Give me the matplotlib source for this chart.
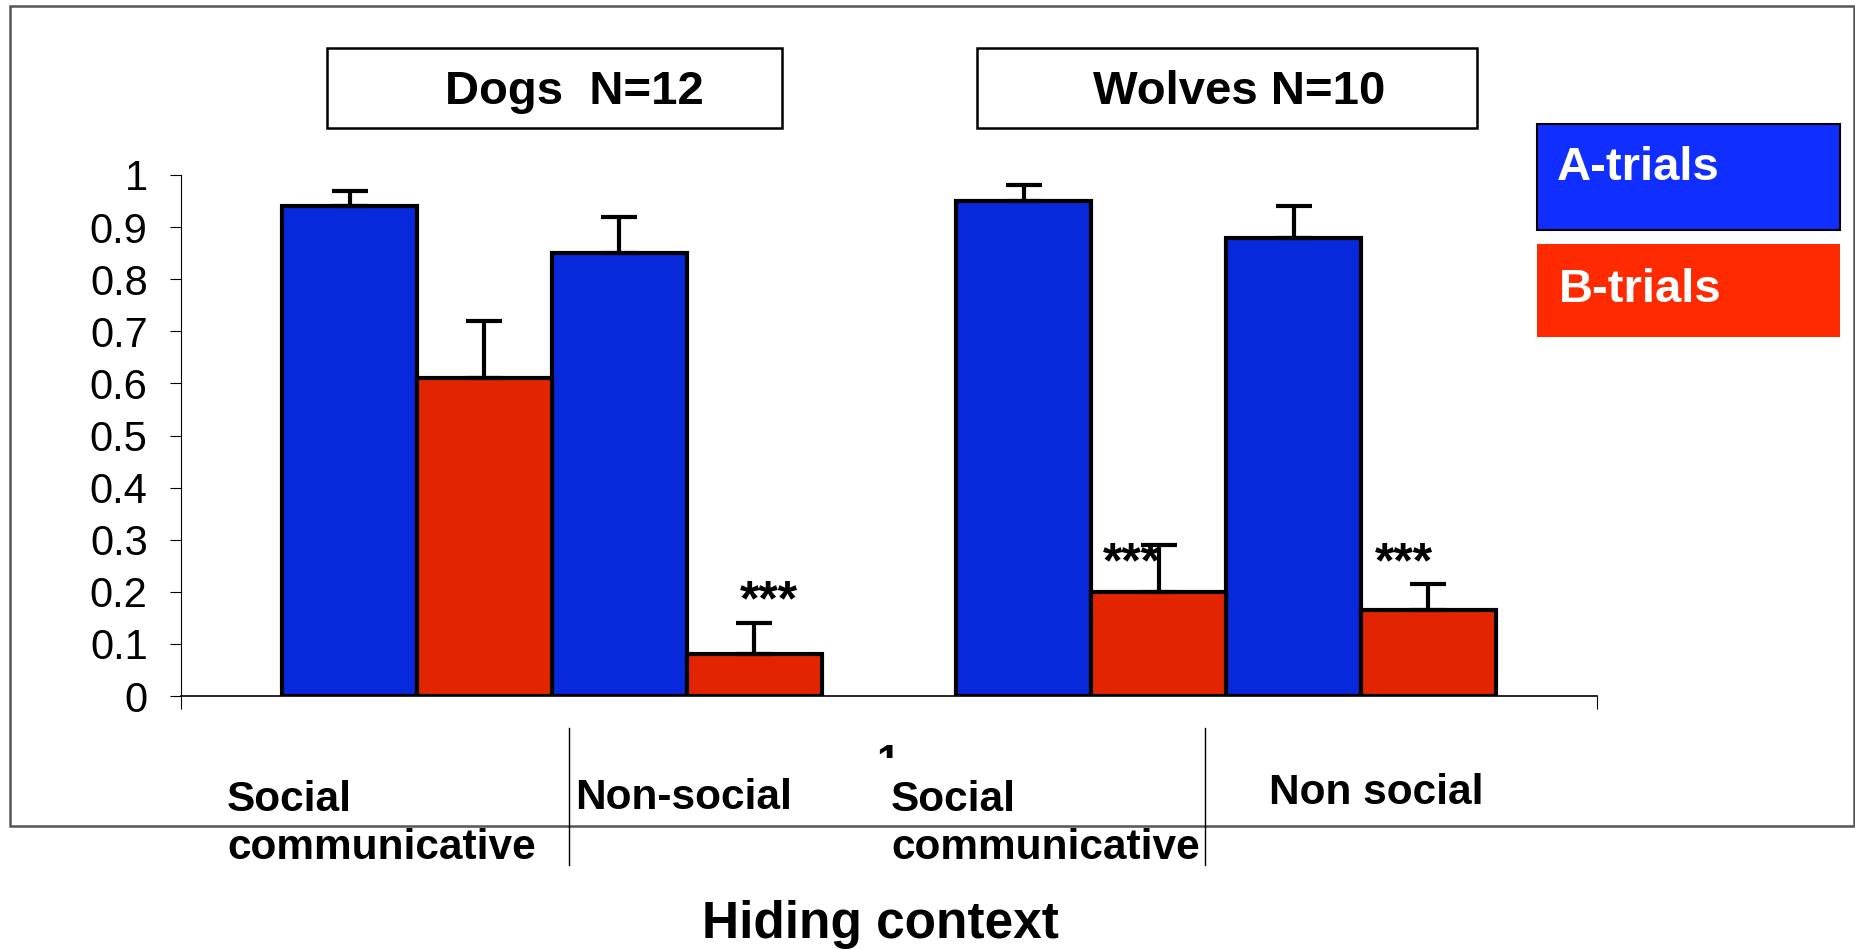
import matplotlib
matplotlib.use("Agg")
import matplotlib.pyplot as plt
from matplotlib.patches import Rectangle
from matplotlib.transforms import Bbox
import numpy as np

plt.rcParams['font.family'] = ['Liberation Sans', 'DejaVu Sans']

# --- Data (proportion of correct choices) ---
groups = ['Dogs  N=12', 'Wolves N=10']
contexts = ['Social\ncommunicative', 'Non-social', 'Social\ncommunicative', 'Non social']
a_trials = [0.94, 0.85, 0.95, 0.88]
a_err = [0.03, 0.07, 0.03, 0.06]
b_trials = [0.61, 0.08, 0.20, 0.165]
b_err = [0.11, 0.06, 0.09, 0.05]
stars = ['', '***', '***', '***']
yticks = [0, 0.1, 0.2, 0.3, 0.4, 0.5, 0.6, 0.7, 0.8, 0.9, 1]
ytick_labels = ['0', '0.1', '0.2', '0.3', '0.4', '0.5', '0.6', '0.7', '0.8', '0.9', '1']

BAR_BLUE = '#0828DC'
BAR_RED = '#E32400'
LEG_BLUE = '#0F2EFF'
LEG_RED = '#FF2A00'

W, H = 1856, 950
fig = plt.figure(figsize=(W / 100, H / 100), dpi=100)


def fx(px):
    return px / W


def fy(py):
    return 1 - py / H


# outer chart frame
fig.patches.append(Rectangle((fx(10), fy(826)), fx(1854) - fx(10), fy(6) - fy(826),
                             transform=fig.transFigure, fill=False,
                             edgecolor='#555555', linewidth=1.8))

ax = fig.add_axes([fx(181), fy(696), fx(1597) - fx(181), fy(175) - fy(696)])

# bar positions: two bars (A, B) per context, a gap between dogs and wolves
a_pos = np.array([0, 2, 5, 7]) + 0.5
b_pos = a_pos + 1

ax.bar(a_pos, a_trials, width=1, color=BAR_BLUE, edgecolor='black', linewidth=3, zorder=3)
ax.bar(b_pos, b_trials, width=1, color=BAR_RED, edgecolor='black', linewidth=3, zorder=3)
ax.errorbar(a_pos, a_trials, yerr=[np.zeros(4), a_err], fmt='none', ecolor='black',
            elinewidth=3, capsize=13, capthick=3, zorder=4)
ax.errorbar(b_pos, b_trials, yerr=[np.zeros(4), b_err], fmt='none', ecolor='black',
            elinewidth=3, capsize=13, capthick=3, zorder=4)

# significance stars
star_x = [0, 3.61, 6.30, 8.32]
star_y = [0, 0.155, 0.228, 0.228]
for s, x, y in zip(stars, star_x, star_y):
    if s:
        ax.text(x, y, s, ha='center', va='baseline', fontsize=36, fontweight='bold', zorder=5)

ax.set_xlim(-0.75, 9.75)
ax.set_ylim(0, 1)
ax.set_yticks(yticks)
ax.set_yticklabels(ytick_labels, fontsize=30)
ax.set_xticks([-0.75, 9.75])
ax.set_xticklabels(['', ''])
ax.tick_params(axis='y', direction='out', length=8, width=0.8, pad=16)
ax.tick_params(axis='x', direction='out', length=9.5, width=0.8)
ax.spines['top'].set_visible(False)
ax.spines['right'].set_visible(False)
ax.spines['left'].set_linewidth(0.8)
ax.spines['bottom'].set_linewidth(1.2)
ax.patch.set_alpha(0)

# group title boxes
title_boxes = [(327, 48, 782, 128, 445), (977, 48, 1477, 128, 1093)]
for name, (x0, y0, x1, y1, tx) in zip(groups, title_boxes):
    fig.patches.append(Rectangle((fx(x0), fy(y1)), fx(x1) - fx(x0), fy(y0) - fy(y1),
                                 transform=fig.transFigure, facecolor='white',
                                 edgecolor='black', linewidth=1.8))
    fig.text(fx(tx), fy(104), name, ha='left', va='baseline', fontsize=34, fontweight='bold')

# legend boxes
fig.patches.append(Rectangle((fx(1537), fy(230)), fx(1840) - fx(1537), fy(124) - fy(230),
                             transform=fig.transFigure, facecolor=LEG_BLUE,
                             edgecolor='black', linewidth=1.5))
fig.patches.append(Rectangle((fx(1537), fy(337)), fx(1840) - fx(1537), fy(244) - fy(337),
                             transform=fig.transFigure, facecolor=LEG_RED,
                             edgecolor='none'))
fig.text(fx(1557), fy(180), 'A-trials', color='white', fontsize=34, fontweight='bold', va='baseline')
fig.text(fx(1559), fy(302), 'B-trials', color='white', fontsize=34, fontweight='bold', va='baseline')

# category axis label "1" (only its top is visible in the original)
one = fig.text(fx(888), fy(743), '1', ha='center', va='top', fontsize=30, fontweight='bold')
one.set_clip_box(Bbox.from_extents(860, H - 758, 915, H - 735))
one.set_clip_on(True)

# hiding context labels and dividers
label_pos = [(227, 859), (575, 809), (891, 859), (1269, 804)]
for lab, (x, y) in zip(contexts, label_pos):
    fig.text(fx(x), fy(y), lab, ha='left', va='baseline', fontsize=30.5,
             fontweight='bold', linespacing=1.25)
for x in [569, 1205]:
    fig.add_artist(plt.Line2D([fx(x), fx(x)], [fy(728), fy(865)], transform=fig.transFigure,
                              color='black', linewidth=1))

fig.text(fx(880), fy(938), 'Hiding context', ha='center', va='baseline', fontsize=37,
         fontweight='bold')

fig.savefig('out.png', dpi=100)
